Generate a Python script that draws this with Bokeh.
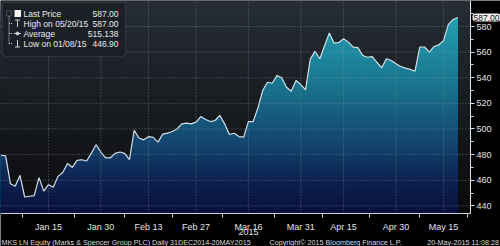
import numpy as np
import pandas as pd
from bokeh.plotting import figure
from bokeh.models import Range1d, LinearAxis, FixedTicker, Label, BoxAnnotation
from bokeh.embed import file_html
from bokeh.resources import INLINE

# ---------------- data ----------------
holidays = ["2015-01-01", "2015-04-03", "2015-04-06", "2015-05-04"]
dates = [d for d in pd.bdate_range("2014-12-31", "2015-05-20")
         if d.strftime("%Y-%m-%d") not in holidays]

prices = [
    479.5, 479.0, 457.2, 455.3, 463.7, 446.9, 447.5, 448.0, 462.0, 451.5,
    456.5, 454.5, 463.0, 466.0, 473.0, 470.0, 475.5, 476.0, 475.0, 481.0,
    487.7, 482.0, 477.5, 477.5, 481.0, 482.0, 481.0, 476.0, 499.0, 493.0,
    491.5, 494.0, 493.5, 489.7, 496.0, 496.7, 498.0, 500.0, 504.0, 504.5,
    504.0, 505.3, 509.7, 507.4, 505.8, 506.6, 510.5, 504.0, 495.7, 496.7,
    494.1, 493.6, 505.8, 505.8, 516.5, 530.0, 536.5, 535.7, 541.7, 540.0,
    532.6, 529.5, 537.8, 534.7, 530.6, 554.5, 560.7, 554.8, 565.0, 575.0,
    567.0, 567.5, 570.4, 567.8, 563.9, 563.5, 557.4, 556.0, 556.5, 552.0,
    547.8, 554.8, 553.5, 551.0, 548.8, 547.5, 546.5, 545.1, 564.0, 564.0,
    560.0, 564.4, 565.7, 569.0, 581.6, 585.5, 587.0,
]

tick_dates = ["2015-01-15", "2015-01-30", "2015-02-13", "2015-02-27", "2015-03-16",
              "2015-03-31", "2015-04-15", "2015-04-30", "2015-05-15"]
tick_labels = ["Jan 15", "Jan 30", "Feb 13", "Feb 27", "Mar 16",
               "Mar 31", "Apr 15", "Apr 30", "May 15"]
year_label = "2015"
y_ticks = [440, 460, 480, 500, 520, 540, 560, 580]
y_minor = [450, 470, 490, 510, 530, 550, 570, 590]

legend_names = ["Last Price", "High on 05/20/15", "Average", "Low on 01/08/15"]
legend_values = ["587.00", "587.00", "515.138", "446.90"]
last_price_tag = "587.00"
last_price = 587.0

footer_left = "MKS LN Equity (Marks & Spencer Group PLC)  Daily 31DEC2014-20MAY2015"
footer_mid = "Copyright\u00a9 2015 Bloomberg Finance L.P."
footer_right = "20-May-2015 11:08:28"

# ---------------- layout helpers ----------------
W, H = 500, 246
PW, PH = 470, 213       # plotting area inside the full-canvas frame
PXI = 4.76              # pixels per trading day
X0 = 0.4
PXV = 1.281             # pixels per price unit


def px2x(px):
    return (px - X0) / PXI


def px2y(py):
    return 580 - (py - 26) / PXV


x_start, x_plot_end, x_end = px2x(0), px2x(PW), px2x(W)
y_top, y_bot, y_canvas_bot = px2y(0), px2y(PH), px2y(H)

FONT = "Liberation Sans"
TXT = "#e4e4e4"

p = figure(width=W, height=H, output_backend="svg", toolbar_location=None,
           x_range=Range1d(x_start, x_end), y_range=Range1d(y_canvas_bot, y_top),
           min_border=0, x_axis_location=None, y_axis_location=None)
p.outline_line_color = None
p.background_fill_color = "#000000"
p.border_fill_color = "#000000"
p.grid.visible = False


def lerp_color(stops, v):
    for j in range(len(stops) - 1):
        if stops[j][0] <= v <= stops[j + 1][0] or j == len(stops) - 2:
            t = (v - stops[j][0]) / (stops[j + 1][0] - stops[j][0])
            t = min(max(t, 0), 1)
            c0, c1 = stops[j][1], stops[j + 1][1]
            return "#%02x%02x%02x" % tuple(int(round(c0[k] + (c1[k] - c0[k]) * t)) for k in range(3))
    return "#000000"


# plot background: vertical gradient
bg_stops = [(y_bot, (10, 10, 11)), (y_top, (38, 45, 53))]
bg_levels = np.linspace(y_bot, y_top, 41)
for k in range(len(bg_levels) - 1, 0, -1):
    mid = 0.5 * (bg_levels[k] + bg_levels[k - 1])
    p.quad(left=x_start, right=x_plot_end, bottom=y_bot, top=bg_levels[k],
           fill_color=lerp_color(bg_stops, mid), line_color=None)

# area under the price with a vertical gradient
x = np.arange(len(prices), dtype=float)
y = np.array(prices, dtype=float)
levels = np.linspace(y_bot, y_top, 61)
rx, ry = [x[0]], [y[0]]
for i in range(len(x) - 1):
    xa, xb, ya, yb = x[i], x[i + 1], y[i], y[i + 1]
    ts = sorted((L - ya) / (yb - ya) for L in levels if (L - ya) * (L - yb) < 0)
    for t in ts:
        rx.append(xa + t * (xb - xa))
        ry.append(ya + t * (yb - ya))
    rx.append(xb)
    ry.append(yb)
rx, ry = np.array(rx), np.array(ry)

fill_stops = [(434, (8, 16, 58)), (460, (12, 33, 80)), (490, (19, 70, 112)),
              (530, (24, 112, 138)), (590, (36, 162, 180))]
for k in range(len(levels) - 1, 0, -1):
    if ry.max() <= levels[k - 1]:
        continue
    mid = 0.5 * (levels[k] + levels[k - 1])
    p.varea(x=rx, y1=y_bot, y2=np.minimum(ry, levels[k]), fill_color=lerp_color(fill_stops, mid))

p.line(x, y, line_color="#d3dde4", line_width=1.2)

# ---------------- grid (dotted, over the area) ----------------
tick_idx = [next(i for i, d in enumerate(dates) if d.strftime("%Y-%m-%d") == td) for td in tick_dates]
GRID = dict(line_color="#8f98a0", line_alpha=0.6, line_dash="1 2", line_width=1, level="guide")
p.segment(x0=tick_idx, y0=[y_bot] * len(tick_idx), x1=tick_idx, y1=[y_top] * len(tick_idx), **GRID)
p.segment(x0=[x_start] * len(y_ticks), y0=y_ticks, x1=[x_plot_end] * len(y_ticks), y1=y_ticks, **GRID)

# ---------------- axes ----------------
mids = [(a + b) / 2 for a, b in zip(tick_idx[:-1], tick_idx[1:])]
mids = [tick_idx[0] - (tick_idx[1] - tick_idx[0]) / 2] + mids + \
       [tick_idx[-1] + (tick_idx[-1] - tick_idx[-2]) / 2]

xaxis = LinearAxis(ticker=FixedTicker(ticks=tick_idx, minor_ticks=mids),
                   major_label_overrides={i: l for i, l in zip(tick_idx, tick_labels)},
                   fixed_location=y_bot, bounds=(x_start, x_plot_end))
xaxis.axis_line_color = "#cfd6dc"
xaxis.major_tick_out = 0
xaxis.major_tick_in = 0
xaxis.major_tick_line_color = None
xaxis.minor_tick_line_color = "#cfd6dc"
xaxis.minor_tick_out = 4
xaxis.minor_tick_in = 0
xaxis.major_label_text_color = TXT
xaxis.major_label_text_font = FONT
xaxis.major_label_text_font_size = "9px"
xaxis.major_label_standoff = 4
p.add_layout(xaxis, "below")

yaxis = LinearAxis(ticker=FixedTicker(ticks=y_ticks, minor_ticks=y_minor),
                   fixed_location=x_plot_end, bounds=(y_bot, y_top))
yaxis.axis_line_color = "#e0e6ea"
yaxis.major_tick_line_color = "#e0e6ea"
yaxis.major_tick_out = 4
yaxis.major_tick_in = 0
yaxis.minor_tick_line_color = "#e0e6ea"
yaxis.minor_tick_out = 3
yaxis.minor_tick_in = 0
yaxis.major_label_text_color = TXT
yaxis.major_label_text_font = FONT
yaxis.major_label_text_font_size = "9px"
yaxis.major_label_standoff = 2
p.add_layout(yaxis, "right")

# last price tag
p.add_layout(Label(x=px2x(472), y=last_price, text=last_price_tag, text_font=FONT,
                   text_font_size="8.5px", text_color="#111111", text_baseline="middle",
                   text_align="left", background_fill_color="#f2f2f2",
                   border_radius=3, padding=1))

# ---------------- legend box ----------------
p.add_layout(BoxAnnotation(left=px2x(2), right=px2x(125), top=px2y(2), bottom=px2y(56),
                           fill_color="#1b2027", fill_alpha=1.0, line_color="#5f666c",
                           line_width=1, border_radius=4))
rows = [13, 23, 33, 43]
for name, val, r in zip(legend_names, legend_values, rows):
    p.add_layout(Label(x=px2x(23), y=px2y(r), text=name, text_font=FONT,
                       text_font_size="8.5px", text_color="#e8e8e8", text_baseline="middle"))
    p.add_layout(Label(x=px2x(118), y=px2y(r), text=val, text_font=FONT,
                       text_font_size="8.5px", text_color="#e8e8e8", text_baseline="middle",
                       text_align="right"))

# legend icons (tree + symbols)
p.add_layout(BoxAnnotation(left=px2x(14), right=px2x(20.5), top=px2y(9.5), bottom=px2y(16.5),
                           fill_color="#f4f4f4", fill_alpha=1.0, line_color=None))
p.add_layout(BoxAnnotation(left=px2x(6), right=px2x(11), top=px2y(10.5), bottom=px2y(15.5),
                           fill_alpha=0, line_color="#b0b6bb", line_width=1))
ic = "#c8ced3"
p.segment(x0=[px2x(8.5)], y0=[px2y(16)], x1=[px2x(8.5)], y1=[px2y(44)],
          line_color=ic, line_dash="1 1", level="overlay")
p.segment(x0=[px2x(8.5)] * 3, y0=[px2y(r) for r in rows[1:]],
          x1=[px2x(12.5)] * 3, y1=[px2y(r) for r in rows[1:]],
          line_color=ic, line_dash="1 1", level="overlay")
p.segment(x0=[px2x(14.5), px2x(17)], y0=[px2y(19.5), px2y(19.5)],
          x1=[px2x(19.5), px2x(17)], y1=[px2y(19.5), px2y(26.5)],
          line_color=ic, level="overlay")
p.segment(x0=[px2x(13.5)], y0=[px2y(33)], x1=[px2x(20.5)], y1=[px2y(33)],
          line_color=ic, level="overlay")
p.scatter(x=[px2x(17)], y=[px2y(33)], size=3, color=ic, level="overlay")
p.segment(x0=[px2x(14.5), px2x(17)], y0=[px2y(46.5), px2y(39.5)],
          x1=[px2x(19.5), px2x(17)], y1=[px2y(46.5), px2y(46.5)],
          line_color=ic, level="overlay")

# ---------------- bottom texts ----------------
p.add_layout(Label(x=tick_idx[4], y=px2y(231.5), text=year_label, text_font=FONT,
                   text_font_size="9px", text_color=TXT, text_align="center",
                   text_baseline="middle"))
foot_y = px2y(241.5)
FOOT = dict(text_font=FONT, text_font_size="7.2px", text_color="#d8d8d8", text_baseline="middle")
p.add_layout(Label(x=px2x(1), y=foot_y, text=footer_left, **FOOT))
p.add_layout(Label(x=px2x(269), y=foot_y, text=footer_mid, **FOOT))
p.add_layout(Label(x=px2x(498.5), y=foot_y, text=footer_right, text_align="right", **FOOT))

open("out.html", "w").write(file_html(p, INLINE))
